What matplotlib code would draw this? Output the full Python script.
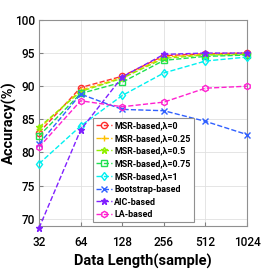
import numpy as np
import matplotlib
matplotlib.use("Agg")
import matplotlib.pyplot as plt

plt.rcParams['font.family'] = ['Roboto', 'DejaVu Sans']

# data
lengths = [32, 64, 128, 256, 512, 1024]
msr_0 = [83.0, 89.8, 91.5, 94.6, 94.9, 95.0]
msr_025 = [83.6, 89.4, 91.3, 94.4, 94.8, 94.9]
msr_05 = [83.8, 89.2, 91.2, 94.2, 94.7, 94.8]
msr_075 = [82.5, 88.9, 90.6, 93.9, 94.5, 94.7]
msr_1 = [78.3, 84.0, 88.6, 92.0, 93.8, 94.4]
bootstrap = [81.3, 88.8, 86.5, 86.3, 84.7, 82.7]
aic = [68.6, 83.4, 91.4, 94.8, 95.0, 95.0]
la = [80.8, 87.8, 86.9, 87.6, 89.7, 90.0]

labels = ['MSR-based,\u03bb=0', 'MSR-based,\u03bb=0.25', 'MSR-based,\u03bb=0.5',
          'MSR-based,\u03bb=0.75', 'MSR-based,\u03bb=1', 'Bootstrap-based',
          'AIC-based', 'LA-based']
series = [msr_0, msr_025, msr_05, msr_075, msr_1, bootstrap, aic, la]
colors = ['#ff3030', '#ffc000', '#90f000', '#20e050', '#00f0f0', '#3060ff', '#8020ff', '#ff20d0']
markers = ['o', '+', '*', 's', 'd', 'x', '*', 'h']

fig = plt.figure(figsize=(2.73, 2.73), dpi=100)
ax = fig.add_axes([0.143, 0.172, 0.762, 0.755])

x = np.log2(lengths)
for y, lab, c, m in zip(series, labels, colors, markers):
    filled = m == '*' and c == '#8020ff'
    ax.plot(x, y, linestyle='--', color=c, marker=m, markersize=4.5,
            markerfacecolor=c if filled else 'none', markeredgecolor=c,
            linewidth=1.0, label=lab, clip_on=False, zorder=3)

ax.set_xlim(5, 10)
ax.set_ylim(68.9, 100)
ax.set_xticks(x)
ax.set_xticklabels([str(v) for v in lengths])
ax.set_yticks(range(70, 101, 5))
ax.tick_params(direction='in', length=3, labelsize=8.5, color='#808080', pad=3)
ax.tick_params(axis='x', pad=7)
for lbl in ax.get_xticklabels() + ax.get_yticklabels():
    lbl.set_fontweight('medium')
for s in ax.spines.values():
    s.set_color('#909090')
ax.grid(True, color='#e0e0e0', linewidth=0.6)
ax.set_axisbelow(True)

ax.set_xlabel('Data Length(sample)', fontsize=10.5, fontweight='bold', labelpad=4)
ax.set_ylabel('Accuracy(%)', fontsize=10.5, fontweight='bold')
ax.yaxis.set_label_coords(-0.105, 0.5)

leg = ax.legend(loc='lower left', bbox_to_anchor=(0.26, 0.02),
                handlelength=1.8, borderpad=0.3, labelspacing=0.42,
                handletextpad=0.3, borderaxespad=0, fancybox=False, framealpha=1,
                edgecolor='#909090', prop={'weight': 'bold', 'size': 6.4})
leg.get_frame().set_linewidth(0.8)

fig.savefig('out.png', dpi=100)
